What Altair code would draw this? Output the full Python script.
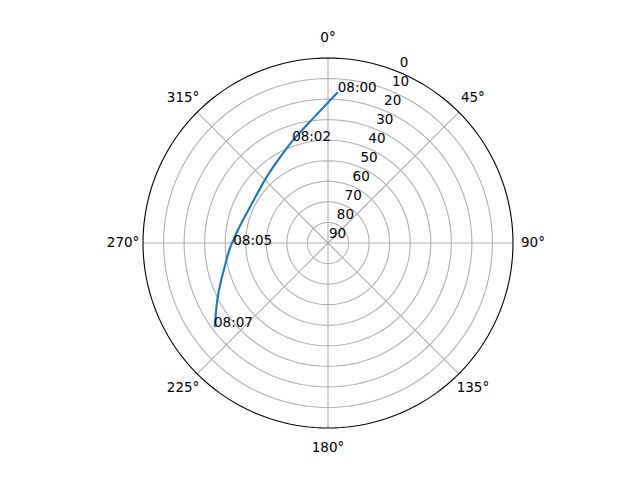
import pandas as pd
import altair as alt

# ---- data ----
ring_values = [0, 10, 20, 30, 40, 50, 60, 70, 80, 90]          # radial tick labels (elevation)
grid_rings = [10, 20, 30, 40, 50, 60, 70, 80]                  # grid circles (elevation)
spoke_angles = [0, 45, 90, 135, 180, 225, 270, 315]            # azimuth grid lines
angle_labels = ["0°", "45°", "90°", "135°", "180°", "225°", "270°", "315°"]
circle_steps = list(range(0, 361, 2))                          # azimuth samples for drawing circles

track_az = [3.7, 351.3, 341.0, 328.7, 314.5, 299.7, 284.8, 268.9, 260.2, 250.7, 242.6, 233.4]
track_el = [16.5, 30.5, 37.3, 43.0, 46.7, 48.3, 47.1, 42.9, 39.8, 34.9, 29.3, 21.3]

label_times = ["08:00", "08:02", "08:05", "08:07"]
label_az = [3.7, 340.7, 268.9, 233.6]
label_el = [16.5, 37.2, 43.9, 21.1]

FONT = "DejaVu Sans"
FS = 13.5
GRID = "#b0b0b0"

xcalc = "(90 - datum.el) * sin(datum.az * PI / 180)"
ycalc = "(90 - datum.el) * cos(datum.az * PI / 180)"

xs = alt.Scale(domain=[-90, 90], nice=False, zero=False)
ys = alt.Scale(domain=[-90, 90], nice=False, zero=False)


def X(f):
    return alt.X(f, scale=xs, axis=None)


def Y(f):
    return alt.Y(f, scale=ys, axis=None)


# grid rings
rings_df = pd.DataFrame(
    [{"el": e, "az": a} for e in grid_rings for a in circle_steps]
)
rings = alt.Chart(rings_df).transform_calculate(px=xcalc, py=ycalc).mark_line(
    color=GRID, strokeWidth=1.1
).encode(x=X("px:Q"), y=Y("py:Q"), detail="el:N", order="az:Q")

# spokes
spokes_df = pd.DataFrame({"az": spoke_angles})
spokes = alt.Chart(spokes_df).transform_calculate(
    x0="0", y0="0",
    x1="90 * sin(datum.az * PI / 180)",
    y1="90 * cos(datum.az * PI / 180)",
).mark_rule(color=GRID, strokeWidth=1.1).encode(
    x=X("x0:Q"), y=Y("y0:Q"), x2="x1:Q", y2="y1:Q"
)

# outer spine
spine_df = pd.DataFrame({"el": [0] * len(circle_steps), "az": circle_steps})
spine = alt.Chart(spine_df).transform_calculate(px=xcalc, py=ycalc).mark_line(
    color="black", strokeWidth=1.1
).encode(x=X("px:Q"), y=Y("py:Q"), order="az:Q")

# track
track_df = pd.DataFrame({"az": track_az, "el": track_el, "i": list(range(len(track_az)))})
track = alt.Chart(track_df).transform_calculate(px=xcalc, py=ycalc).mark_line(
    color="#1f77b4", strokeWidth=2.1, interpolate="natural"
).encode(x=X("px:Q"), y=Y("py:Q"), order="i:Q")

# time labels
lab_df = pd.DataFrame({"t": label_times, "az": label_az, "el": label_el})
labels = alt.Chart(lab_df).transform_calculate(px=xcalc, py=ycalc).mark_text(
    align="left", baseline="alphabetic", font=FONT, fontSize=FS, color="black"
).encode(x=X("px:Q"), y=Y("py:Q"), text="t:N")

# angular tick labels
ang_df = pd.DataFrame({"az": spoke_angles, "lab": angle_labels})
ang = alt.Chart(ang_df).transform_calculate(
    px="99.7 * sin(datum.az * PI / 180)", py="99.7 * cos(datum.az * PI / 180)"
).mark_text(align="center", baseline="middle", font=FONT, fontSize=FS, color="black").encode(
    x=X("px:Q"), y=Y("py:Q"), text="lab:N"
)

# radial tick labels
rad_df = pd.DataFrame({"el": ring_values, "az": [22.5] * len(ring_values)})
rad = alt.Chart(rad_df).transform_calculate(
    px=xcalc, py=ycalc, lab="format(datum.el, 'd')"
).mark_text(
    align="left", baseline="bottom", dx=1, dy=-2, font=FONT, fontSize=FS, color="black"
).encode(x=X("px:Q"), y=Y("py:Q"), text="lab:N")

chart = alt.layer(rings, spokes, spine, track, rad, labels, ang).properties(
    width=370,
    height=370,
    autosize=alt.AutoSizeParams(type="none"),
    padding={"left": 135, "top": 50, "right": 40, "bottom": 40},
).configure_view(strokeWidth=0)

chart.save("out.html", embed_options={"renderer": "svg", "actions": False})
